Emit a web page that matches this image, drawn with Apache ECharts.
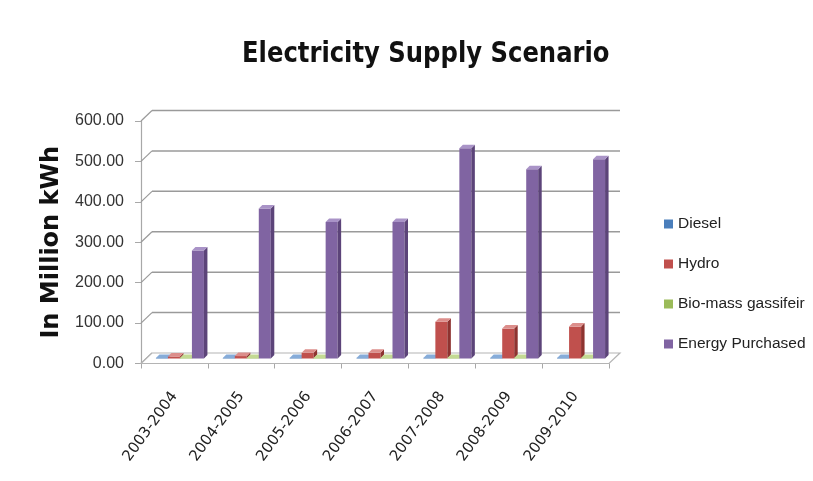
<!DOCTYPE html>
<html>
<head>
<meta charset="utf-8">
<title>Electricity Supply Scenario</title>
<script src="https://cdn.jsdelivr.net/npm/echarts@6/dist/echarts.min.js"></script>
<style>
  html, body { margin: 0; padding: 0; background: #ffffff; }
  #chart { width: 813px; height: 481px; }
</style>
</head>
<body>
<div id="chart"></div>
<script>
// Fiscal years on the category axis
const categories = ['2003-2004', '2004-2005', '2005-2006', '2006-2007', '2007-2008', '2008-2009', '2009-2010'];

// Supply by source, in million kWh
const diesel = [1.5, 1.5, 1.5, 1.5, 1.5, 1.5, 1.5];
const hydro = [5, 6, 14, 14, 91, 74, 79];
const biomass = [1.5, 1.5, 1.5, 1.5, 1.5, 1.5, 1.5];
const purchased = [267, 371, 338, 338, 520, 468, 493];

const seriesNames = ['Diesel', 'Hydro', 'Bio-mass gassifeir', 'Energy Purchased'];

// Value axis range
const yMin = 0;
const yMax = 600;
const yStep = 100;

// Pseudo-3D look: depth of the back wall and of each column
const WALL_DX = 11, WALL_DY = 10.5;
const COL_SHIFT_X = 5.5, COL_SHIFT_Y = 5;
const COL_W = 12, COL_D = 3.5;

const palette = [
  { front: '#4a7ebb', side: '#34608f', top: '#86acd9' },
  { front: '#c0504d', side: '#8e3330', top: '#dc8e8b' },
  { front: '#9bbb59', side: '#74913a', top: '#c3da93' },
  { front: '#8064a2', side: '#5c4479', top: '#a993c7' }
];

function columnRenderer(pos) {
  const c = palette[pos];
  return function (params, api) {
    const idx = api.value(0);
    const val = api.value(1);
    const top = api.coord([idx, val]);
    const base = api.coord([idx, 0]);
    const x0 = top[0] - 2 * COL_W + pos * COL_W + COL_SHIFT_X;
    const x1 = x0 + COL_W;
    const yt = top[1] - COL_SHIFT_Y;
    const yb = base[1] - COL_SHIFT_Y;
    return {
      type: 'group',
      children: [
        { type: 'rect', shape: { x: x0, y: yt, width: COL_W, height: yb - yt },
          style: { fill: c.front } },
        { type: 'polygon', shape: { points: [[x1, yt], [x1 + COL_D, yt - COL_D], [x1 + COL_D, yb - COL_D], [x1, yb]] },
          style: { fill: c.side } },
        { type: 'polygon', shape: { points: [[x0, yt], [x1, yt], [x1 + COL_D, yt - COL_D], [x0 + COL_D, yt - COL_D]] },
          style: { fill: c.top } }
      ]
    };
  };
}

// Back wall gridlines, left wall diagonals and the floor
function frameRenderer(params, api) {
  const cs = params.coordSys;
  const left = cs.x, right = cs.x + cs.width;
  const children = [];
  for (let v = yMin; v <= yMax; v += yStep) {
    const y = api.coord([0, v])[1];
    if (v > yMin) {
      children.push({ type: 'line', shape: { x1: left + WALL_DX, y1: y - WALL_DY, x2: right + WALL_DX, y2: y - WALL_DY },
        style: { stroke: '#9a9a9a', lineWidth: 1.5 } });
    }
    children.push({ type: 'line', shape: { x1: left, y1: y, x2: left + WALL_DX, y2: y - WALL_DY },
      style: { stroke: '#9a9a9a', lineWidth: 1.2 } });
  }
  const yb = api.coord([0, yMin])[1];
  children.push({ type: 'polygon',
    shape: { points: [[left, yb], [right, yb], [right + WALL_DX, yb - WALL_DY], [left + WALL_DX, yb - WALL_DY]] },
    style: { fill: '#ffffff', stroke: '#b4b4b4', lineWidth: 1.2 } });
  return { type: 'group', children: children };
}

function toRows(values) {
  return values.map(function (v, i) { return [i, v]; });
}

const seriesValues = [diesel, hydro, biomass, purchased];

const series = [{
  type: 'custom',
  name: 'frame',
  renderItem: frameRenderer,
  data: [[0, 0]],
  silent: true,
  z: 1
}].concat(seriesValues.map(function (vals, k) {
  return {
    type: 'custom',
    name: seriesNames[k],
    renderItem: columnRenderer(k),
    data: toRows(vals),
    itemStyle: { color: palette[k].front },
    z: 3
  };
}));

const chart = echarts.init(document.getElementById('chart'), null, { renderer: 'canvas' });
chart.setOption({
  animation: false,
  backgroundColor: '#ffffff',
  // Tall, condensed heading
  graphic: [{
    type: 'text',
    x: 242,
    y: 69,
    scaleY: 1.08,
    style: {
      text: 'Electricity Supply Scenario',
      align: 'left',
      verticalAlign: 'bottom',
      fontFamily: '"DejaVu Sans Condensed", sans-serif',
      fontWeight: 'bold',
      fontSize: 27,
      fill: '#111111'
    }
  }],
  legend: {
    data: seriesNames,
    orient: 'vertical',
    left: 664,
    top: 216,
    padding: 0,
    itemWidth: 9,
    itemHeight: 9,
    itemGap: 24,
    icon: 'rect',
    textStyle: {
      fontFamily: '"Liberation Sans", Arial, sans-serif',
      fontSize: 15.5,
      color: '#222222'
    }
  },
  grid: {
    left: 141,
    right: 204,
    top: 121,
    bottom: 117.5,
    containLabel: false
  },
  xAxis: {
    type: 'category',
    data: categories,
    axisLine: { show: true, lineStyle: { color: '#a8a8a8', width: 1.2 } },
    axisTick: { show: true, length: 5, lineStyle: { color: '#a8a8a8' } },
    axisLabel: {
      rotate: 54,
      margin: 30,
      fontFamily: '"DejaVu Sans", sans-serif',
      fontSize: 15,
      color: '#222222',
      interval: 0
    }
  },
  yAxis: {
    type: 'value',
    min: yMin,
    max: yMax,
    interval: yStep,
    name: 'In Million kWh',
    nameLocation: 'middle',
    nameGap: 72,
    nameTextStyle: {
      fontFamily: '"DejaVu Sans", sans-serif',
      fontWeight: 'bold',
      fontSize: 24,
      color: '#111111'
    },
    axisLine: { show: true, lineStyle: { color: '#a8a8a8', width: 1.2 } },
    axisTick: { show: true, length: 6, lineStyle: { color: '#a8a8a8' } },
    splitLine: { show: false },
    axisLabel: {
      margin: 17,
      fontFamily: '"Liberation Sans", Arial, sans-serif',
      fontSize: 16,
      color: '#333333',
      formatter: function (v) { return v.toFixed(2); }
    }
  },
  series: series
});
</script>
</body>
</html>
